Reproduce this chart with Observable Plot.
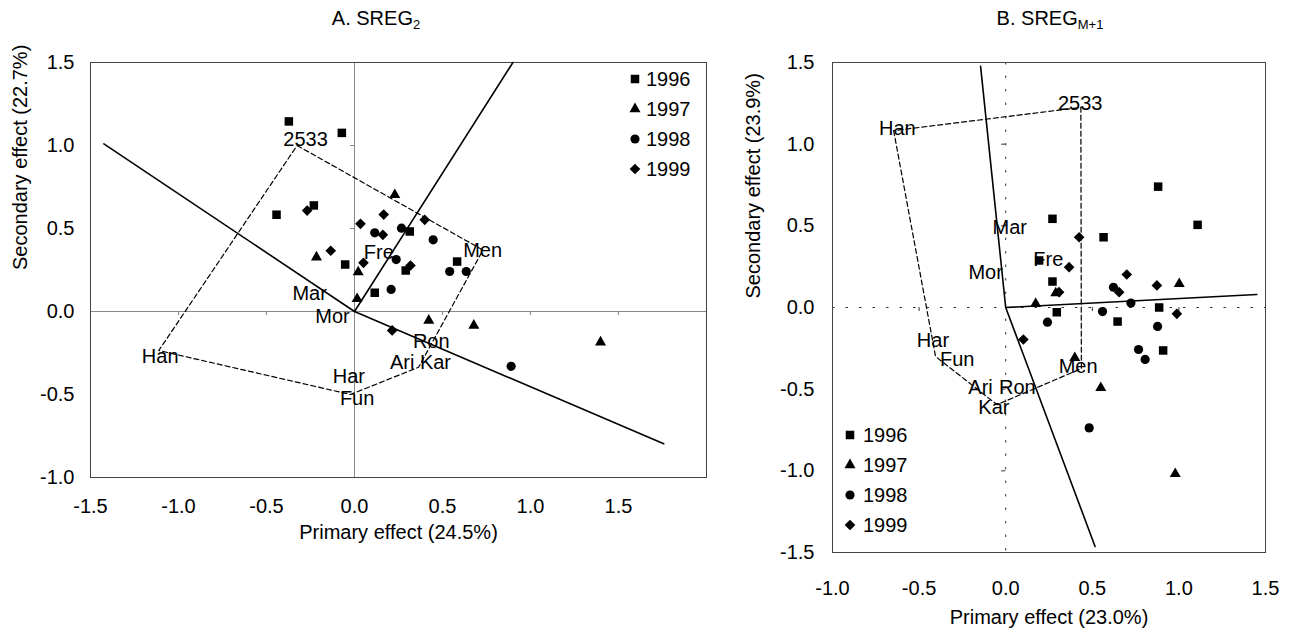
<!DOCTYPE html>
<html><head><meta charset="utf-8">
<script src="https://cdn.jsdelivr.net/npm/d3@7"></script>
<script src="https://cdn.jsdelivr.net/npm/@observablehq/plot@0.6"></script>
<style>
body{margin:0;background:#fff;width:1289px;height:639px;overflow:hidden;position:relative;font-family:"Liberation Sans",Arial,sans-serif;color:#000;}
#A{position:absolute;left:0;top:0;width:720px;height:560px;}
#B{position:absolute;left:720px;top:0;width:569px;height:639px;}
.title{position:absolute;top:7px;font-size:20px;line-height:23px;transform:translateX(-50%);white-space:nowrap;}
.title sub{font-size:13px;line-height:0;vertical-align:-4px;}
.lrow{position:absolute;height:30px;display:flex;align-items:center;font-size:20px;line-height:23px;white-space:nowrap;}
.lrow svg{display:block;}
</style></head><body>
<div id="A"></div><div id="B"></div>
<div class="title" style="left:376px">A. SREG<sub>2</sub></div>
<div class="title" style="left:1050px">B. SREG<sub>M+1</sub></div>
<div id="legA"></div><div id="legB"></div>
<script>
// ---- shared ----
const years = ["1996", "1997", "1998", "1999"];
const symbolTypes = [d3.symbolSquare, d3.symbolTriangle, d3.symbolCircle, d3.symbolDiamond2];
const symbolR = [4.8, 4.1, 4.6, 4.8];

// ---- Panel A: SREG2 ----
const xTicksA = [-1.5, -1.0, -0.5, 0.0, 0.5, 1.0, 1.5];
const yTicksA = [-1.0, -0.5, 0.0, 0.5, 1.0, 1.5];
const A_1996 = [[-0.373, 1.145], [-0.072, 1.076], [-0.443, 0.583], [-0.231, 0.639], [0.314, 0.482], [-0.053, 0.283], [0.291, 0.247], [0.583, 0.301], [0.115, 0.113]];
const A_1997 = [[0.229, 0.703], [-0.216, 0.327], [0.021, 0.237], [0.015, 0.076], [0.422, -0.054], [0.678, -0.084], [1.398, -0.185]];
const A_1998 = [[0.115, 0.474], [0.267, 0.502], [0.447, 0.432], [0.237, 0.313], [0.541, 0.241], [0.635, 0.241], [0.208, 0.133], [0.89, -0.33]];
const A_1999 = [[-0.269, 0.608], [0.034, 0.528], [0.166, 0.584], [0.161, 0.462], [0.399, 0.552], [-0.135, 0.366], [0.051, 0.293], [0.318, 0.277], [0.214, -0.114]];
const A_names = ["2533", "Men", "Fre", "Mar", "Mor", "Han", "Har", "Fun", "Ron", "Ari", "Kar"];
const A_nameX = [-0.278, 0.728, 0.138, -0.255, -0.125, -1.104, -0.032, 0.015, 0.436, 0.271, 0.46];
const A_nameY = [1.036, 0.367, 0.357, 0.11, -0.03, -0.271, -0.39, -0.525, -0.179, -0.305, -0.305];
const A_hull = [[-0.326, 1.0], [0.73, 0.37], [0.364, -0.336], [-0.023, -0.5], [-1.112, -0.235]];
const A_ray1 = [[-1.424, 1.01], [0, 0], [1.757, -0.797]];
const A_ray2 = [[0, 0], [0.9, 1.5]];

// ---- Panel B: SREGM+1 ----
const xTicksB = [-1.0, -0.5, 0.0, 0.5, 1.0, 1.5];
const yTicksB = [-1.5, -1.0, -0.5, 0.0, 0.5, 1.0, 1.5];
const B_1996 = [[0.27, 0.543], [0.565, 0.43], [1.108, 0.506], [0.88, 0.74], [0.193, 0.288], [0.27, 0.159], [0.295, -0.029], [0.646, -0.086], [0.886, 0.0], [0.909, -0.263]];
const B_1997 = [[0.173, 0.023], [0.289, 0.088], [1.002, 0.145], [0.399, -0.308], [0.549, -0.492], [0.979, -1.018]];
const B_1998 = [[0.241, -0.09], [0.559, -0.025], [0.723, 0.027], [0.622, 0.124], [0.877, -0.116], [0.767, -0.257], [0.805, -0.318], [0.482, -0.737]];
const B_1999 = [[0.424, 0.43], [0.366, 0.247], [0.699, 0.202], [0.873, 0.135], [0.308, 0.094], [0.655, 0.094], [0.988, -0.039], [0.102, -0.196]];
const B_names = ["2533", "Han", "Mar", "Fre", "Mor", "Har", "Fun", "Ari", "Ron", "Kar", "Men"];
const B_nameX = [0.43, -0.626, 0.023, 0.246, -0.116, -0.42, -0.28, -0.145, 0.067, -0.068, 0.418];
const B_nameY = [1.251, 1.094, 0.488, 0.294, 0.216, -0.205, -0.318, -0.49, -0.49, -0.61, -0.36];
const B_hull = [[-0.647, 1.083], [-0.405, -0.30], [-0.05, -0.595], [0.437, -0.374], [0.434, 1.225]];
const B_ray1 = [[-0.145, 1.476], [0, 0], [0.516, -1.463]];
const B_ray2 = [[0, 0], [1.45, 0.08]];

const fmt = d => d.toFixed(1);
const PX = d => d[0], PY = d => d[1];

function panel(o) {
  const marks = [
    Plot.ruleX([0], {stroke: o.axisColor, strokeWidth: 1, strokeDasharray: o.axisDash}),
    Plot.ruleY([0], {stroke: o.axisColor, strokeWidth: 1, strokeDasharray: o.axisDash}),
    Plot.ruleX(o.xTicks.filter(d => d !== 0), {x: d => d, y1: 0, y2: 0, insetBottom: -4, stroke: o.axisColor}),
    Plot.ruleY(o.yTicks.filter(d => d !== 0), {y: d => d, x1: 0, x2: 0, insetLeft: -4, stroke: o.axisColor}),
    Plot.frame({stroke: "#444", strokeWidth: 1}),
    Plot.line(o.hull, {x: PX, y: PY, curve: "linear-closed", stroke: "black", strokeWidth: 1.2, strokeDasharray: "5,3"}),
    ...o.rays.map(r => Plot.line(r, {x: PX, y: PY, stroke: "black", strokeWidth: 1.6})),
    Plot.text(o.names, {x: (d, i) => o.nameX[i], y: (d, i) => o.nameY[i], text: d => d, fontSize: 20, fill: "black"}),
    ...o.series.map((pts, i) => Plot.dot(pts, {x: PX, y: PY, symbol: symbolTypes[i], r: symbolR[i], fill: "black", stroke: "none"})),
    Plot.text([o.xLabel], {frameAnchor: "bottom", dy: o.xLabelDy, fontSize: 20, fill: "black"}),
    Plot.text([o.yLabel], {frameAnchor: "left", rotate: -90, dx: o.yLabelDx, dy: o.yLabelDy, fontSize: 20, fill: "black"})
  ];
  return Plot.plot({
    width: o.width, height: o.height,
    marginLeft: o.ml, marginRight: o.mr, marginTop: o.mt, marginBottom: o.mb,
    style: {fontSize: "20px", fontFamily: "'Liberation Sans', Arial, sans-serif", color: "black", background: "transparent", overflow: "visible"},
    x: {domain: o.xDomain, ticks: o.xTicks, tickSize: 0, tickPadding: o.xPad, tickFormat: fmt, label: null},
    y: {domain: o.yDomain, ticks: o.yTicks, tickSize: 0, tickPadding: o.yPad, tickFormat: fmt, label: null},
    marks
  });
}

document.getElementById("A").append(panel({
  width: 720, height: 560, ml: 90, mr: 14, mt: 62, mb: 83,
  xDomain: [-1.5, 2.0], yDomain: [-1.0, 1.5], xTicks: xTicksA, yTicks: yTicksA, xPad: 21, yPad: 16,
  axisColor: "#888", axisDash: null,
  hull: A_hull, rays: [A_ray1, A_ray2], names: A_names, nameX: A_nameX, nameY: A_nameY,
  series: [A_1996, A_1997, A_1998, A_1999],
  xLabel: "Primary effect (24.5%)", yLabel: "Secondary effect (22.7%)", xLabelDy: 61, yLabelDx: -70, yLabelDy: 0
}));

document.getElementById("B").append(panel({
  width: 569, height: 639, ml: 112, mr: 24, mt: 62, mb: 87,
  xDomain: [-1.0, 1.5], yDomain: [-1.5, 1.5], xTicks: xTicksB, yTicks: yTicksB, xPad: 28, yPad: 18,
  axisColor: "#333", axisDash: "2.5,11",
  hull: B_hull, rays: [B_ray1, B_ray2], names: B_names, nameX: B_nameX, nameY: B_nameY,
  series: [B_1996, B_1997, B_1998, B_1999],
  xLabel: "Primary effect (23.0%)", yLabel: "Secondary effect (23.9%)", xLabelDy: 71, yLabelDx: -79, yLabelDy: -9
}));

// ---- legends ----
function legend(id, left, top0, gap) {
  const host = document.getElementById(id);
  years.forEach((yr, i) => {
    const row = document.createElement("div");
    row.className = "lrow";
    row.style.left = left + "px";
    row.style.top = (top0 + i * 30 - 15) + "px";
    const size = Math.PI * symbolR[i] * symbolR[i];
    const svg = d3.create("svg").attr("width", 14).attr("height", 14).attr("viewBox", "-7 -7 14 14");
    svg.append("path").attr("d", d3.symbol(symbolTypes[i], size)()).attr("fill", "black");
    row.append(svg.node());
    const span = document.createElement("span");
    span.textContent = yr;
    span.style.marginLeft = gap + "px";
    row.append(span);
    host.append(row);
  });
}
legend("legA", 628, 79, 4);
legend("legB", 843, 435, 6);
</script>
</body></html>
